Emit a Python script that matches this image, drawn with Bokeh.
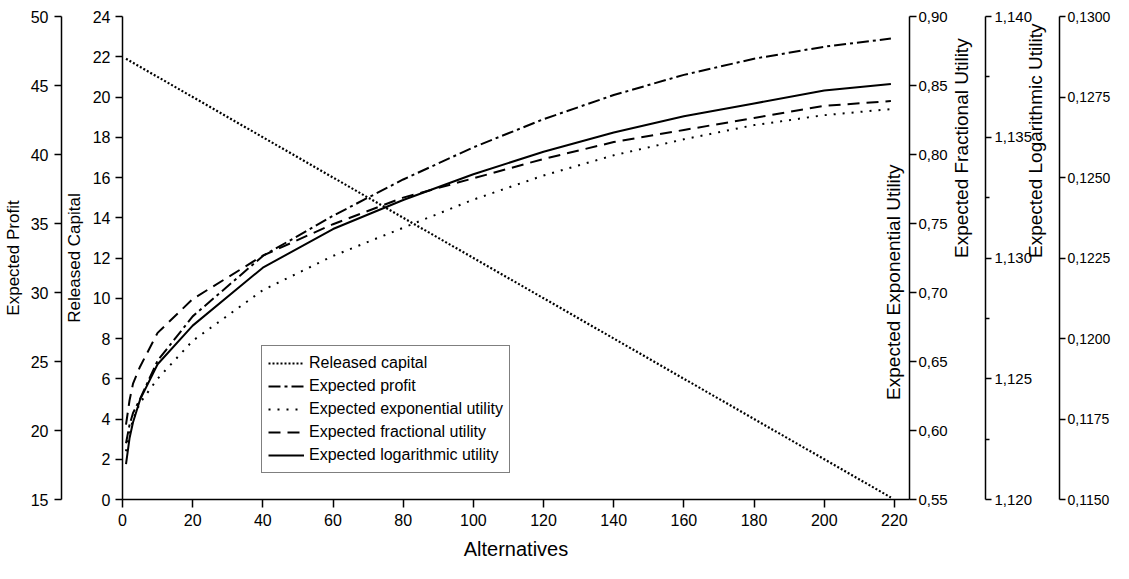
import math
from bokeh.plotting import figure
from bokeh.models import (Range1d, LinearAxis, FixedTicker, Legend, LegendItem,
                          Label, CustomJSTickFormatter)
from bokeh.embed import file_html
from bokeh.resources import INLINE

# ---------------- data ----------------
alternatives = [1, 2, 3, 5, 10, 20, 40, 60, 80, 100, 120, 140, 160, 180, 200, 219]
released_capital = [21.9, 21.8, 21.7, 21.5, 21.0, 20.0, 18.0, 16.0, 14.0, 12.0,
                    10.0, 8.0, 6.0, 4.0, 2.0, 0.1]
expected_profit = [19.08, 20.40, 21.27, 22.29, 25.06, 28.27, 32.65, 35.56, 38.19,
                   40.52, 42.56, 44.31, 45.77, 46.94, 47.81, 48.40]
expected_exponential = [0.585, 0.598, 0.608, 0.620, 0.6375, 0.665, 0.7017, 0.7265,
                        0.7469, 0.7673, 0.7848, 0.7994, 0.8110, 0.8213, 0.8285, 0.8329]
expected_fractional = [1.1231, 1.1241, 1.1248, 1.1255, 1.1269, 1.1283, 1.1301, 1.1314,
                       1.1325, 1.1333, 1.1341, 1.1348, 1.1353, 1.1358, 1.1363, 1.1365]
expected_logarithmic = [0.1161, 0.1169, 0.1174, 0.1181, 0.1192, 0.1204, 0.1222, 0.1234,
                        0.1243, 0.1251, 0.1258, 0.1264, 0.1269, 0.1273, 0.1277, 0.1279]

x_ticks = [0, 20, 40, 60, 80, 100, 120, 140, 160, 180, 200, 220]
released_ticks = [0, 2, 4, 6, 8, 10, 12, 14, 16, 18, 20, 22, 24]
profit_ticks = [15, 20, 25, 30, 35, 40, 45, 50]
exp_ticks = [0.55, 0.60, 0.65, 0.70, 0.75, 0.80, 0.85, 0.90]
frac_ticks = [1.120, 1.125, 1.130, 1.135, 1.140]
frac_minor_ticks = [1.1225, 1.1275, 1.1325, 1.1375]
log_ticks = [0.1150, 0.1175, 0.1200, 0.1225, 0.1250, 0.1275, 0.1300]

series_names = ["Released capital", "Expected profit", "Expected exponential utility",
                "Expected fractional utility", "Expected logarithmic utility"]

FONT = "Liberation Sans"

p = figure(width=1113, height=563, output_backend="svg", toolbar_location=None,
           x_range=Range1d(0, 224.3), y_range=Range1d(0, 24),
           x_axis_location=None, y_axis_location=None,
           min_border_left=0, min_border_right=0, min_border_top=16, min_border_bottom=64)
p.outline_line_color = None
p.xgrid.visible = False
p.ygrid.visible = False
p.background_fill_color = "white"
p.border_fill_color = "white"

p.extra_y_ranges = {
    "profit": Range1d(15, 50),
    "exp": Range1d(0.55, 0.90),
    "frac": Range1d(1.12, 1.14),
    "log": Range1d(0.115, 0.130),
}


def style_axis(ax, tick_out=7, standoff=5, size="16px", label_size="17px"):
    ax.axis_line_color = "black"
    ax.axis_line_width = 1.5
    ax.major_tick_line_color = "black"
    ax.major_tick_line_width = 1.5
    ax.major_tick_out = tick_out
    ax.major_tick_in = 0
    ax.minor_tick_line_color = None
    ax.major_label_text_font = FONT
    ax.major_label_text_font_size = size
    ax.major_label_text_color = "black"
    ax.major_label_standoff = standoff
    ax.axis_label_text_font = FONT
    ax.axis_label_text_font_style = "normal"
    ax.axis_label_text_font_size = label_size
    ax.axis_label_text_color = "black"
    return ax


def label_only(range_name, text, standoff):
    # an axis that carries only a title (used to place the right-hand titles
    # to the left of their own axis line, as in the reference)
    ax = LinearAxis(y_range_name=range_name, ticker=FixedTicker(ticks=[]),
                    axis_label=text, axis_label_standoff=standoff,
                    axis_label_orientation=math.pi / 2)
    ax.axis_line_color = None
    ax.major_tick_out = 0
    ax.major_tick_in = 0
    ax.minor_tick_line_color = None
    ax.axis_label_text_font = FONT
    ax.axis_label_text_font_style = "normal"
    ax.axis_label_text_font_size = "19px"
    ax.axis_label_text_color = "black"
    return ax


def spacer(range_name, gap):
    ax = LinearAxis(y_range_name=range_name, ticker=FixedTicker(ticks=[]))
    ax.axis_line_color = None
    ax.major_tick_out = gap
    ax.major_tick_in = 0
    ax.minor_tick_line_color = None
    return ax


# x axis
xax = style_axis(LinearAxis(ticker=FixedTicker(ticks=x_ticks), axis_label="Alternatives"),
                 tick_out=8, standoff=6)
xax.axis_label_text_font_size = "20px"
xax.axis_label_standoff = 9
p.add_layout(xax, "below")

# left axes (first added = closest to plot)
rel_ax = style_axis(LinearAxis(ticker=FixedTicker(ticks=released_ticks),
                               axis_label="Released Capital"))
rel_ax.axis_label_standoff = 6
p.add_layout(rel_ax, "left")
p.add_layout(spacer("profit", 17), "left")

prof_ax = style_axis(LinearAxis(y_range_name="profit", ticker=FixedTicker(ticks=profit_ticks),
                                axis_label="Expected Profit"), standoff=6)
prof_ax.axis_label_standoff = 5
p.add_layout(prof_ax, "left")

# right axes
exp_ax = style_axis(LinearAxis(y_range_name="exp", ticker=FixedTicker(ticks=exp_ticks),
                               formatter=CustomJSTickFormatter(
                                   code="return tick.toFixed(2).replace('.', ',')")),
                    standoff=2, size="15px")
p.add_layout(exp_ax, "right")
p.add_layout(label_only("frac", "Expected Fractional Utility", 11), "right")

frac_ax = style_axis(LinearAxis(y_range_name="frac",
                                ticker=FixedTicker(ticks=frac_ticks, minor_ticks=frac_minor_ticks),
                                formatter=CustomJSTickFormatter(
                                    code="return tick.toFixed(3).replace('.', ',')")),
                     tick_out=6, standoff=3, size="15px")
frac_ax.minor_tick_line_color = "black"
frac_ax.minor_tick_line_width = 1.5
frac_ax.minor_tick_out = 4
frac_ax.minor_tick_in = 0
p.add_layout(frac_ax, "right")
p.add_layout(label_only("log", "Expected Logarithmic Utility", 0), "right")

log_ax = style_axis(LinearAxis(y_range_name="log", ticker=FixedTicker(ticks=log_ticks),
                               formatter=CustomJSTickFormatter(
                                   code="return tick.toFixed(4).replace('.', ',')")),
                    tick_out=6, standoff=2, size="14px")
p.add_layout(log_ax, "right")

# exponential-utility axis title sits inside the plot, left of its axis
p.add_layout(Label(x=219.8, y=10.8, text="Expected Exponential Utility", angle=math.pi / 2,
                   text_align="center", text_baseline="middle", text_font=FONT,
                   text_font_size="19px", text_color="black"))

# ---------------- lines ----------------
r_rel = p.line(alternatives, released_capital, line_color="black", line_width=2.2,
               line_dash="2 2")
r_prof = p.line(alternatives, expected_profit, y_range_name="profit", line_color="black",
                line_width=2, line_dash="12 4 3 4")
r_exp = p.line(alternatives, expected_exponential, y_range_name="exp", line_color="black",
               line_width=2, line_dash="2 7")
r_frac = p.line(alternatives, expected_fractional, y_range_name="frac", line_color="black",
                line_width=2, line_dash="12 7")
r_log = p.line(alternatives, expected_logarithmic, y_range_name="log", line_color="black",
               line_width=2)

legend = Legend(items=[LegendItem(label=n, renderers=[r]) for n, r in
                       zip(series_names, [r_rel, r_prof, r_exp, r_frac, r_log])],
                location=(139, 26))
legend.border_line_color = "black"
legend.border_line_width = 1.5
legend.background_fill_color = "white"
legend.background_fill_alpha = 1.0
legend.label_text_font = FONT
legend.label_text_font_size = "16px"
legend.label_text_color = "black"
legend.padding = 6
legend.margin = 0
legend.spacing = 1
legend.label_height = 22
legend.glyph_height = 22
legend.glyph_width = 36
legend.label_standoff = 5
p.add_layout(legend, "center")

open("out.html", "w").write(file_html(p, INLINE))
